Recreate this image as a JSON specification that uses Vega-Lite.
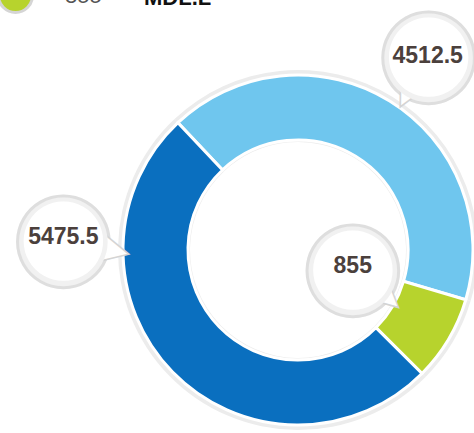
{
  "$schema": "https://vega.github.io/schema/vega-lite/v6.json",
  "autosize": "none",
  "width": 352,
  "height": 366,
  "padding": {"left": 122, "top": 67, "right": 0, "bottom": 0},
  "background": "white",
  "config": {"view": {"stroke": null}},
  "data": {"values": [
    {"seq": 1, "label": "4512.5", "value": 4512.5},
    {"seq": 2, "label": "855", "value": 855},
    {"seq": 3, "label": "5475.5", "value": 5475.5}
  ]},
  "encoding": {
    "theta": {"field": "value", "type": "quantitative", "stack": true, "scale": {"range": [-0.756, 5.527]}},
    "order": {"field": "seq", "type": "quantitative"}
  },
  "layer": [
    {"mark": {"type": "arc", "radius": 180, "radius2": 108, "color": "#ececec"}},
    {"mark": {"type": "arc", "radius": 175, "radius2": 110, "stroke": "white", "strokeWidth": 3},
     "encoding": {"color": {"field": "label", "type": "nominal",
       "scale": {"domain": ["4512.5", "855", "5475.5"], "range": ["#6fc6ee", "#b7d32d", "#0a6fbf"]},
       "legend": {"values": ["855"], "orient": "none", "legendX": -125, "legendY": -90, "padding": 0,
         "title": "MDL.L", "titleOrient": "right", "titlePadding": 42, "titleFontSize": 22, "titleFontWeight": "bold", "titleColor": "#111", "titleFont": "Liberation Sans",
         "labelFont": "Liberation Sans", "labelFontSize": 22, "labelColor": "#555", "labelOffset": 31,
         "symbolType": "circle", "symbolSize": 1156, "symbolStrokeColor": "#d5d5d5", "symbolStrokeWidth": 3, "symbolOpacity": 1}}}},

    {"mark": {"type": "text", "radius": 236, "thetaOffset": 0.035, "font": "DejaVu Sans", "fontSize": 124, "color": "#dedede", "baseline": "middle", "align": "center"},
     "encoding": {"text": {"condition": {"test": "datum.seq == 1", "value": "●"}, "value": ""}}},
    {"mark": {"type": "text", "radius": 190, "thetaOffset": 0.058, "angle": 27, "font": "DejaVu Sans", "fontSize": 34, "color": "white", "stroke": "#d4d4d4", "strokeWidth": 1.5, "baseline": "middle", "align": "center"},
     "encoding": {"text": {"condition": {"test": "datum.seq == 1", "value": "▼"}, "value": ""}}},
    {"mark": {"type": "text", "radius": 236, "thetaOffset": 0.035, "font": "DejaVu Sans", "fontSize": 116, "color": "#f1f1f1", "baseline": "middle", "align": "center"},
     "encoding": {"text": {"condition": {"test": "datum.seq == 1", "value": "●"}, "value": ""}}},
    {"mark": {"type": "text", "radius": 236, "thetaOffset": 0.035, "font": "DejaVu Sans", "fontSize": 104, "color": "white", "baseline": "middle", "align": "center"},
     "encoding": {"text": {"condition": {"test": "datum.seq == 1", "value": "●"}, "value": ""}}},
    {"mark": {"type": "text", "radius": 233, "thetaOffset": 0.039, "font": "Liberation Sans", "fontSize": 23, "fontWeight": "bold", "color": "#4b403c", "baseline": "middle", "align": "center"},
     "encoding": {"text": {"condition": {"test": "datum.seq == 1", "field": "label"}, "value": ""}}},

    {"mark": {"type": "text", "radius": 235, "thetaOffset": 0.827, "font": "DejaVu Sans", "fontSize": 124, "color": "#dedede", "baseline": "middle", "align": "center"},
     "encoding": {"text": {"condition": {"test": "datum.seq == 3", "value": "●"}, "value": ""}}},
    {"mark": {"type": "text", "radius": 183, "thetaOffset": 0.766, "angle": -77, "font": "DejaVu Sans", "fontSize": 34, "color": "white", "stroke": "#d4d4d4", "strokeWidth": 1.5, "baseline": "middle", "align": "center"},
     "encoding": {"text": {"condition": {"test": "datum.seq == 3", "value": "▼"}, "value": ""}}},
    {"mark": {"type": "text", "radius": 235, "thetaOffset": 0.827, "font": "DejaVu Sans", "fontSize": 116, "color": "#f1f1f1", "baseline": "middle", "align": "center"},
     "encoding": {"text": {"condition": {"test": "datum.seq == 3", "value": "●"}, "value": ""}}},
    {"mark": {"type": "text", "radius": 235, "thetaOffset": 0.827, "font": "DejaVu Sans", "fontSize": 104, "color": "white", "baseline": "middle", "align": "center"},
     "encoding": {"text": {"condition": {"test": "datum.seq == 3", "value": "●"}, "value": ""}}},
    {"mark": {"type": "text", "radius": 235, "thetaOffset": 0.827, "font": "Liberation Sans", "fontSize": 23, "fontWeight": "bold", "color": "#4b403c", "baseline": "middle", "align": "center"},
     "encoding": {"text": {"condition": {"test": "datum.seq == 3", "field": "label"}, "value": ""}}},

    {"mark": {"type": "text", "radius": 57, "thetaOffset": -0.254, "font": "DejaVu Sans", "fontSize": 124, "color": "#dedede", "baseline": "middle", "align": "center"},
     "encoding": {"text": {"condition": {"test": "datum.seq == 2", "value": "●"}, "value": ""}}},
    {"mark": {"type": "text", "radius": 102, "thetaOffset": -0.045, "angle": -48, "font": "DejaVu Sans", "fontSize": 34, "color": "white", "stroke": "#d4d4d4", "strokeWidth": 1.5, "baseline": "middle", "align": "center"},
     "encoding": {"text": {"condition": {"test": "datum.seq == 2", "value": "▼"}, "value": ""}}},
    {"mark": {"type": "text", "radius": 57, "thetaOffset": -0.254, "font": "DejaVu Sans", "fontSize": 116, "color": "#f1f1f1", "baseline": "middle", "align": "center"},
     "encoding": {"text": {"condition": {"test": "datum.seq == 2", "value": "●"}, "value": ""}}},
    {"mark": {"type": "text", "radius": 57, "thetaOffset": -0.254, "font": "DejaVu Sans", "fontSize": 104, "color": "white", "baseline": "middle", "align": "center"},
     "encoding": {"text": {"condition": {"test": "datum.seq == 2", "value": "●"}, "value": ""}}},
    {"mark": {"type": "text", "radius": 57, "thetaOffset": -0.254, "font": "Liberation Sans", "fontSize": 23, "fontWeight": "bold", "color": "#4b403c", "baseline": "middle", "align": "center"},
     "encoding": {"text": {"condition": {"test": "datum.seq == 2", "field": "label"}, "value": ""}}}
  ]
}
